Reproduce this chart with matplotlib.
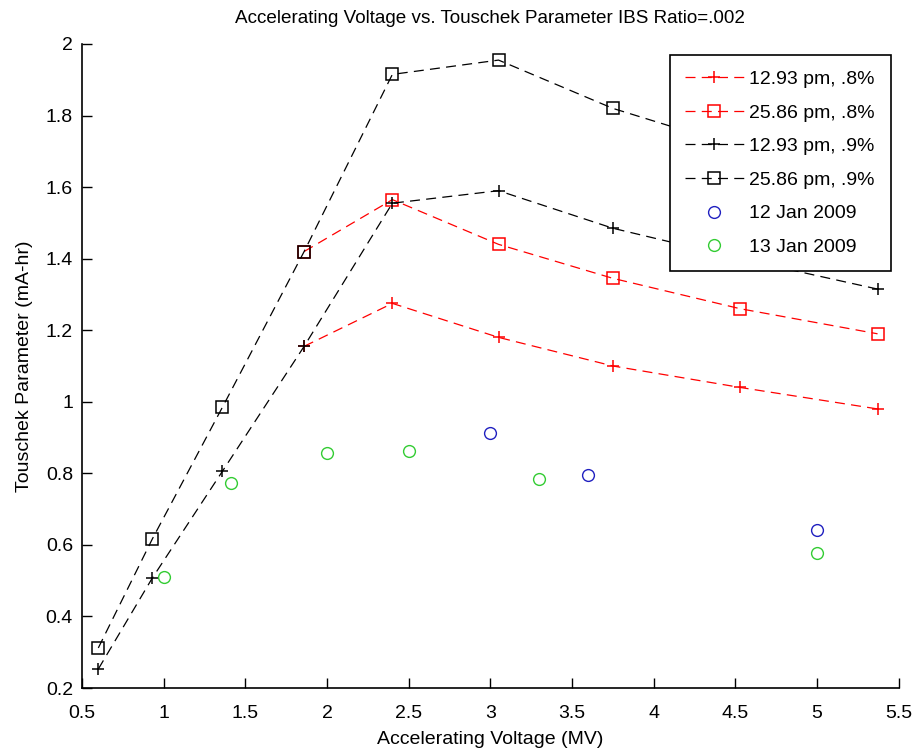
import matplotlib
matplotlib.use('Agg')
import matplotlib.pyplot as plt

# data
volt_model = [0.6, 0.93, 1.36, 1.86, 2.4, 3.05, 3.75, 4.53, 5.37]
volt_red = volt_model[3:]
red_plus = [1.155, 1.275, 1.18, 1.10, 1.04, 0.98]          # 12.93 pm, .8%
red_sq = [1.42, 1.565, 1.44, 1.345, 1.26, 1.19]            # 25.86 pm, .8%
blk_plus = [0.253, 0.507, 0.806, 1.155, 1.555, 1.59, 1.485, 1.40, 1.315]   # 12.93 pm, .9%
blk_sq = [0.312, 0.616, 0.985, 1.42, 1.915, 1.955, 1.82, 1.71, 1.61]       # 25.86 pm, .9%

volt_jan12 = [3.0, 3.6, 5.0]
tp_jan12 = [0.912, 0.795, 0.643]
volt_jan13 = [1.0, 1.41, 2.0, 2.5, 3.3, 5.0]
tp_jan13 = [0.51, 0.773, 0.857, 0.862, 0.785, 0.576]

labels = ['12.93 pm, .8%', '25.86 pm, .8%', '12.93 pm, .9%', '25.86 pm, .9%',
          '12 Jan 2009', '13 Jan 2009']
xticks = [0.5, 1, 1.5, 2, 2.5, 3, 3.5, 4, 4.5, 5, 5.5]
yticks = [0.2, 0.4, 0.6, 0.8, 1, 1.2, 1.4, 1.6, 1.8, 2]

plt.rcParams['font.family'] = ['Liberation Sans', 'DejaVu Sans']
_fs = 14

fig = plt.figure(figsize=(9.19, 7.52), dpi=100)
ax = fig.add_axes([0.0892, 0.0851, 0.8888, 0.8564])

_dash = (0, (8, 5))
_lw = 0.9
ax.plot(volt_red, red_plus, color='red', ls=_dash, lw=_lw, marker='+', ms=9, mew=1.1,
        label=labels[0])
ax.plot(volt_red, red_sq, color='red', ls=_dash, lw=_lw, marker='s', ms=8, mfc='none',
        mew=1.1, label=labels[1])
ax.plot(volt_model, blk_plus, color='black', ls=_dash, lw=_lw, marker='+', ms=9, mew=1.1,
        label=labels[2])
ax.plot(volt_model, blk_sq, color='black', ls=_dash, lw=_lw, marker='s', ms=8, mfc='none',
        mew=1.1, label=labels[3])
ax.plot(volt_jan12, tp_jan12, ls='none', marker='o', ms=8.5, mfc='none', mec='#2020c0',
        mew=1.0, label=labels[4])
ax.plot(volt_jan13, tp_jan13, ls='none', marker='o', ms=8.5, mfc='none', mec='#33cc33',
        mew=1.0, label=labels[5])

ax.set_xlim(0.5, 5.5)
ax.set_ylim(0.2, 2)
ax.set_xticks(xticks)
ax.set_xticklabels([('%g' % t) for t in xticks])
ax.set_yticks(yticks)
ax.set_yticklabels([('%g' % t) for t in yticks])
ax.tick_params(direction='in', length=7, width=1, labelsize=_fs)
ax.tick_params(axis='x', pad=12)
ax.tick_params(axis='y', pad=6.5)
ax.spines['top'].set_visible(False)
ax.spines['right'].set_visible(False)
for s in ('left', 'bottom'):
    ax.spines[s].set_linewidth(1.2)

ax.set_title('Accelerating Voltage vs. Touschek Parameter IBS Ratio=.002', fontsize=13.6, pad=15)
ax.set_xlabel('Accelerating Voltage (MV)', fontsize=_fs, labelpad=7)
ax.set_ylabel('Touschek Parameter (mA-hr)', fontsize=_fs, labelpad=9)

leg = ax.legend(loc='upper right', bbox_to_anchor=(0.99, 0.983), borderaxespad=0,
                fontsize=_fs, frameon=True, fancybox=False, framealpha=1,
                edgecolor='black', labelspacing=0.82, handlelength=3.0,
                handletextpad=0.3, borderpad=0.8)
leg.get_frame().set_linewidth(1.2)

fig.savefig('out.png', dpi=100)
